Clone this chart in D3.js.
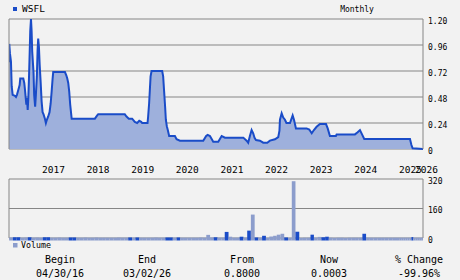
<!DOCTYPE html>
<html>
<head>
<meta charset="utf-8">
<script src="https://cdn.jsdelivr.net/npm/d3@7"></script>
<style>
  body { margin: 0; background: #f2f2f2; }
  text { font-family: "DejaVu Sans Mono", monospace; fill: #000; }
</style>
</head>
<body>
<div id="chart"></div>
<script>
// price points
const priceDates = [
  "2016-04-30","2016-05-02","2016-05-08","2016-05-16","2016-05-22","2016-05-30","2016-06-18","2016-06-26",
  "2016-07-04","2016-07-15","2016-07-26","2016-07-31","2016-08-25","2016-09-02","2016-09-08","2016-09-14",
  "2016-09-19","2016-09-24","2016-09-30","2016-10-05","2016-10-11","2016-10-16","2016-10-21","2016-10-27",
  "2016-11-01","2016-11-06","2016-11-17","2016-11-22","2016-11-30","2016-12-06","2016-12-14","2016-12-20",
  "2016-12-25","2016-12-31","2017-01-06","2017-01-14","2017-01-22","2017-01-30","2017-02-07","2017-02-18",
  "2017-02-26","2017-03-06","2017-03-17","2017-03-28","2017-04-06","2017-04-14","2017-04-22","2017-04-27",
  "2017-08-01","2017-08-12","2017-08-20","2017-08-28","2017-09-05","2017-09-13","2017-09-25","2018-04-03",
  "2018-04-22","2018-04-30","2018-12-04","2018-12-18","2019-01-06","2019-02-02","2019-02-24","2019-03-15",
  "2019-04-01","2019-04-17","2019-04-25","2019-06-08","2019-06-13","2019-06-21","2019-06-27","2019-07-03",
  "2019-07-11","2019-10-06","2019-10-14","2019-10-22","2019-10-30","2019-11-05","2019-11-13","2019-11-21",
  "2019-12-02","2020-01-18","2020-02-01","2020-02-28","2020-09-06","2020-09-30","2020-10-12","2020-10-31",
  "2020-11-27","2021-01-07","2021-02-04","2021-03-03","2021-07-31","2021-08-27","2021-09-09","2021-09-23",
  "2021-10-07","2021-10-20","2021-11-01","2021-11-12","2021-12-14","2022-01-10","2022-02-12","2022-03-06",
  "2022-04-16","2022-05-13","2022-05-23","2022-05-27","2022-06-10","2022-06-23","2022-07-07","2022-07-19",
  "2022-08-17","2022-09-08","2022-09-19","2022-10-05","2022-12-31","2023-01-22","2023-02-11","2023-03-01",
  "2023-03-23","2023-04-19","2023-06-08","2023-06-22","2023-07-10","2023-08-28","2023-09-03","2024-01-31",
  "2024-02-22","2024-03-12","2024-03-31","2024-04-16","2025-08-09","2025-09-01","2025-09-20","2026-03-02"
];
const priceValues = [
  0.80, 0.97, 0.88, 0.81, 0.58, 0.50, 0.49, 0.48,
  0.50, 0.545, 0.59, 0.65, 0.65, 0.61, 0.545, 0.47,
  0.41, 0.47, 0.36, 0.47, 0.67, 0.88, 1.09, 1.20,
  1.09, 0.90, 0.70, 0.50, 0.39, 0.50, 0.67, 0.91,
  1.02, 0.94, 0.78, 0.62, 0.44, 0.34, 0.32, 0.28,
  0.24, 0.27, 0.30, 0.34, 0.42, 0.53, 0.65, 0.71,
  0.71, 0.68, 0.65, 0.61, 0.53, 0.41, 0.28, 0.28,
  0.31, 0.32, 0.32, 0.30, 0.28, 0.28, 0.25, 0.24,
  0.26, 0.25, 0.24, 0.24, 0.30, 0.42, 0.545, 0.67,
  0.72, 0.72, 0.67, 0.53, 0.39, 0.27, 0.21, 0.175,
  0.12, 0.12, 0.09, 0.077, 0.077, 0.12, 0.13, 0.12,
  0.067, 0.067, 0.12, 0.105, 0.105, 0.077, 0.058, 0.12,
  0.175, 0.145, 0.10, 0.083, 0.077, 0.058, 0.058, 0.077,
  0.09, 0.11, 0.17, 0.27, 0.33, 0.29, 0.27, 0.24,
  0.24, 0.31, 0.27, 0.19, 0.19, 0.18, 0.145, 0.175,
  0.205, 0.23, 0.23, 0.19, 0.12, 0.12, 0.135, 0.135,
  0.155, 0.175, 0.13, 0.092, 0.092, 0.037, 0.006, 0.0003
];

// monthly volume (thousands), May 2016 .. Mar 2026
const volumeStart = "2016-05-01";
const volumeValues = [
  3, 4, 4, 2, 3, 4, 2, 3, 2, 4, 4, 2,
  2, 3, 2, 2, 3, 3, 2, 2, 3, 2, 2, 3,
  2, 2, 2, 2, 2, 3, 2, 2, 3, 2, 3, 2,
  2, 2, 2, 3, 2, 2, 3, 3, 2, 3, 2, 2,
  2, 2, 2, 3, 2, 17, 3, 4, 2, 2, 33, 7,
  2, 2, 7, 2, 40, 127, 3, 2, 12, 1, 8, 12,
  18, 23, 3, 1, 308, 34, 1, 2, 2, 18, 2, 6,
  4, 7, 2, 1, 2, 2, 1, 2, 2, 2, 2, 23,
  2, 2, 2, 2, 2, 2, 2, 2, 2, 2, 2, 2,
  2, 2, 2, 2, 5, 2, 2, 2, 2, 2, 2
];
// 1 = dark bar, 0 = light bar
const volumeUp = [
  0, 1, 1, 0, 0, 1, 0, 0, 0, 1, 1, 0,
  0, 0, 0, 0, 1, 1, 0, 0, 0, 0, 0, 0,
  0, 0, 0, 0, 0, 0, 0, 0, 1, 0, 1, 0,
  0, 0, 0, 0, 0, 0, 1, 1, 0, 1, 0, 0,
  0, 0, 0, 0, 0, 0, 0, 1, 0, 0, 1, 0,
  0, 0, 1, 0, 1, 0, 1, 0, 1, 0, 0, 0,
  0, 0, 1, 0, 0, 1, 0, 0, 0, 1, 0, 0,
  1, 1, 0, 0, 0, 0, 0, 0, 0, 0, 0, 1,
  0, 0, 0, 0, 0, 0, 0, 0, 0, 0, 0, 0,
  0, 0, 0, 0, 1, 0, 0, 0, 0, 0, 0
];

const yearLabels = ["2017","2018","2019","2020","2021","2022","2023","2024","2025","2026"];
const priceTicks = [0, 0.24, 0.48, 0.72, 0.96, 1.20];
const volumeTicks = [0, 160, 320];
const statLabels = ["Begin", "End", "From", "Now", "% Change"];
const statValues = ["04/30/16", "03/02/26", "0.8000", "0.0003", "-99.96%"];

const W = 460, H = 280;
const left = 9, right = 423;
const lineColor = "#1a4cc8", areaColor = "#9eb0dc", lightBar = "#8c9dcc", gridColor = "#868686";

const parse = d3.timeParse("%Y-%m-%d");
const data = priceDates.map((d, i) => ({ date: parse(d), value: priceValues[i] }));

const months = d3.timeMonth.range(parse(volumeStart), parse("2026-03-02"));
const volData = months.map((m, i) => ({ month: m, value: volumeValues[i], up: volumeUp[i] }));

const svg = d3.select("#chart").append("svg")
  .attr("width", W).attr("height", H)
  .style("background", "#f2f2f2");

// last year on the chart is squeezed
const x = d3.scaleTime()
  .domain([parse("2016-04-30"), parse("2025-01-01"), parse("2026-03-02")])
  .range([left, 396, right]);

const y = d3.scaleLinear().domain([0, 1.2]).range([149, 19]);
const yv = d3.scaleLinear().domain([0, 320]).range([238, 179]);

svg.append("clipPath").attr("id", "clip")
  .append("rect").attr("x", left).attr("y", 0).attr("width", right - left).attr("height", H);

// header
svg.append("rect").attr("x", 13).attr("y", 7).attr("width", 4).attr("height", 4).attr("fill", lineColor);
svg.append("text").attr("x", 22).attr("y", 9).attr("dy", "0.35em")
  .style("font-size", "9.5px").text("WSFL");
svg.append("text").attr("x", 357).attr("y", 9).attr("dy", "0.35em")
  .attr("text-anchor", "middle").style("font-size", "8px").text("Monthly");

// price panel grid
svg.append("g").selectAll("line").data(priceTicks).join("line")
  .attr("x1", left).attr("x2", right)
  .attr("y1", d => y(d)).attr("y2", d => y(d))
  .attr("stroke", gridColor).attr("stroke-width", 1);

svg.append("g").selectAll("text").data(priceTicks).join("text")
  .attr("x", 428).attr("y", d => y(d) + 2).attr("dy", "0.35em")
  .style("font-size", "8px")
  .text(d => d === 0 ? "0" : d.toFixed(2));

// area + line
svg.append("path").datum(data)
  .attr("clip-path", "url(#clip)")
  .attr("fill", areaColor)
  .attr("d", d3.area().x(d => x(d.date)).y0(y(0)).y1(d => y(d.value)));

svg.append("path").datum(data)
  .attr("clip-path", "url(#clip)")
  .attr("fill", "none")
  .attr("stroke", lineColor)
  .attr("stroke-width", 2)
  .attr("stroke-linejoin", "miter")
  .attr("d", d3.line().x(d => x(d.date)).y(d => y(d.value)));

// borders
[[y(1.2), y(0)], [yv(320), yv(0)]].forEach(([t, b]) => {
  svg.append("line").attr("x1", left).attr("x2", left).attr("y1", t).attr("y2", b).attr("stroke", gridColor);
  svg.append("line").attr("x1", right).attr("x2", right).attr("y1", t).attr("y2", b).attr("stroke", gridColor);
});

// year labels
svg.append("g").selectAll("text").data(yearLabels).join("text")
  .attr("x", d => Math.min(x(parse(d + "-01-01")) + 3, 415))
  .attr("y", 170).attr("dy", "0.35em")
  .style("font-size", "9.5px")
  .text(d => d);

// volume panel grid
svg.append("g").selectAll("line").data(volumeTicks).join("line")
  .attr("x1", left).attr("x2", right)
  .attr("y1", d => yv(d)).attr("y2", d => yv(d))
  .attr("stroke", gridColor).attr("stroke-width", 1);

svg.append("g").selectAll("text").data(volumeTicks).join("text")
  .attr("x", 428).attr("y", d => yv(d) + 2).attr("dy", "0.35em")
  .style("font-size", "8px")
  .text(d => d);

// volume bars, small ones hang a little under the axis
svg.append("g").attr("clip-path", "url(#clip)")
  .selectAll("rect").data(volData).join("rect")
  .attr("x", d => x(d.month))
  .attr("width", d => x(d3.timeMonth.offset(d.month, 1)) - x(d.month))
  .attr("y", d => yv(d.value))
  .attr("height", d => yv(0) + 2.5 - yv(d.value))
  .attr("fill", d => d.up ? lineColor : lightBar);

// volume legend
svg.append("rect").attr("x", 13).attr("y", 243).attr("width", 4.5).attr("height", 4.5).attr("fill", lightBar);
svg.append("text").attr("x", 21).attr("y", 245.5).attr("dy", "0.35em")
  .style("font-size", "8.3px").text("Volume");

// stats row
const statX = [60, 147, 242, 329, 419];
svg.append("g").selectAll("text").data(statLabels).join("text")
  .attr("x", (d, i) => statX[i]).attr("y", 259.5).attr("dy", "0.35em")
  .attr("text-anchor", "middle").style("font-size", "10px")
  .text(d => d);
svg.append("g").selectAll("text").data(statValues).join("text")
  .attr("x", (d, i) => statX[i]).attr("y", 273).attr("dy", "0.35em")
  .attr("text-anchor", "middle").style("font-size", "10px")
  .text(d => d);
</script>
</body>
</html>
